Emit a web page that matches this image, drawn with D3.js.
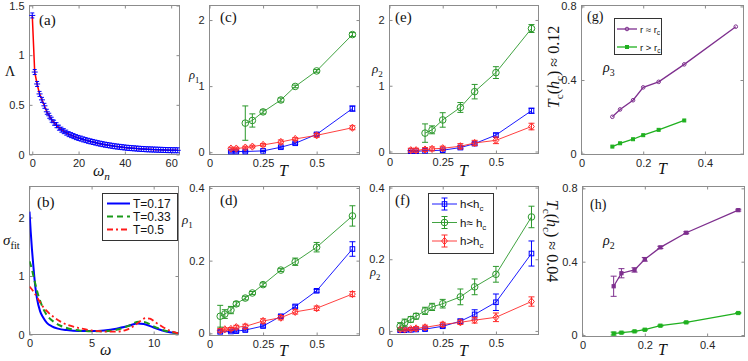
<!DOCTYPE html>
<html><head><meta charset="utf-8">
<script src="https://cdn.jsdelivr.net/npm/d3@7"></script>
<style>body{margin:0;background:#fff} svg{display:block}</style>
</head><body>
<svg id="chart" width="748" height="361"></svg>
<script>
// ---------- DATA ----------
// (a) Lambda vs Matsubara frequency
const aOmega = [0,1.05,2.09,3.14,4.19,5.24,6.28,7.33,8.38,9.42,10.47,11.52,12.57,13.61,14.66,15.71,16.76,17.80,18.85,19.90,20.94,21.99,23.04,24.08,25.13,26.18,27.23,28.27,29.32,30.37,31.42,32.46,33.51,34.56,35.60,36.65,37.70,38.75,39.79,40.84,41.89,42.94,43.98,45.03,46.08,47.12,48.17,49.22,50.27,51.31,52.36,53.41,54.45,55.50,56.55,57.60,58.64,59.69,60.74,61.78,62.83];
const aLambda = [1.40,0.83,0.71,0.61,0.55,0.49,0.43,0.39,0.35,0.32,0.295,0.27,0.25,0.235,0.22,0.205,0.195,0.185,0.175,0.167,0.16,0.152,0.145,0.138,0.132,0.126,0.12,0.114,0.109,0.104,0.099,0.095,0.091,0.087,0.083,0.08,0.077,0.074,0.071,0.068,0.066,0.064,0.062,0.06,0.058,0.056,0.055,0.053,0.052,0.051,0.05,0.049,0.048,0.047,0.046,0.045,0.044,0.044,0.043,0.043,0.042];

// (b) sigma_fit curves
const bLabels = ["T=0.17","T=0.33","T=0.5"];
const bOmega1 = [0,0.1,0.2,0.3,0.45,0.6,0.85,1.1,1.4,1.8,2.3,3,4,5,6,7,8,8.7,9.2,10,11,12];
const bSigma1 = [2.1,1.75,1.45,1.2,0.85,0.62,0.4,0.29,0.2,0.14,0.1,0.075,0.06,0.06,0.07,0.1,0.15,0.19,0.18,0.12,0.05,0.02];
const bOmega2 = [0,0.15,0.35,0.6,0.9,1.2,1.6,2,2.5,3,4,5,6,7,8,8.8,9.3,10,11,12];
const bSigma2 = [1.25,1.15,0.97,0.75,0.55,0.4,0.28,0.21,0.15,0.11,0.07,0.055,0.055,0.08,0.15,0.22,0.21,0.14,0.06,0.02];
const bOmega3 = [0,0.3,0.6,1.0,1.5,2,2.5,3,4,5,6,7,7.8,8.5,9.0,9.35,9.7,10.2,10.8,11.5,12];
const bSigma3 = [0.82,0.74,0.64,0.5,0.38,0.29,0.22,0.17,0.11,0.07,0.05,0.05,0.08,0.16,0.24,0.28,0.27,0.2,0.12,0.05,0.02];

// (c)-(f) series: h<hc (blue), h≈hc (green), h>hc (red)
const legendH = ["h<h","h≈ h","h>h"];
const cT_lo = [0.1,0.125,0.167,0.25,0.333,0.4,0.5,0.667];
const cV_lo = [0.01,0.01,0.01,0.02,0.075,0.135,0.27,0.66];
const cE_lo = [0.01,0.01,0.01,0.01,0.015,0.015,0.02,0.04];
const cT_eq = [0.167,0.2,0.25,0.333,0.4,0.5,0.667];
const cV_eq = [0.44,0.48,0.61,0.79,0.995,1.23,1.78];
const cE_eq = [0.26,0.1,0.03,0.03,0.02,0.02,0.03];
const cT_hi = [0.1,0.125,0.167,0.2,0.25,0.333,0.4,0.5,0.667];
const cV_hi = [0.055,0.055,0.07,0.085,0.11,0.155,0.2,0.255,0.37];
const cE_hi = [0.02,0.02,0.02,0.02,0.02,0.03,0.02,0.03,0.03];

const dT_lo = [0.05,0.1,0.125,0.167,0.25,0.333,0.4,0.5,0.667];
const dV_lo = [0.004,0.005,0.006,0.009,0.02,0.047,0.074,0.117,0.232];
const dE_lo = [0.003,0.003,0.003,0.003,0.003,0.004,0.004,0.004,0.02];
const dT_eq = [0.05,0.0714,0.1,0.125,0.167,0.2,0.25,0.333,0.4,0.5,0.667];
const dV_eq = [0.047,0.053,0.064,0.081,0.097,0.111,0.134,0.174,0.197,0.237,0.323];
const dE_eq = [0.03,0.012,0.01,0.006,0.005,0.004,0.005,0.004,0.01,0.013,0.028];
const dT_hi = [0.05,0.0714,0.1,0.125,0.167,0.25,0.333,0.4,0.5,0.667];
const dV_hi = [0.008,0.011,0.012,0.017,0.019,0.034,0.043,0.059,0.069,0.108];
const dE_hi = [0.005,0.004,0.004,0.005,0.006,0.006,0.006,0.006,0.006,0.007];

const eT_lo = [0.1,0.125,0.167,0.25,0.333,0.4,0.5,0.667];
const eV_lo = [0.005,0.005,0.01,0.02,0.06,0.12,0.25,0.62];
const eE_lo = [0.01,0.01,0.01,0.01,0.02,0.02,0.03,0.04];
const eT_eq = [0.167,0.2,0.25,0.333,0.4,0.5,0.667];
const eV_eq = [0.28,0.33,0.48,0.67,0.91,1.2,1.87];
const eE_eq = [0.14,0.06,0.11,0.075,0.11,0.09,0.06];
const eT_hi = [0.1,0.125,0.167,0.2,0.25,0.333,0.4,0.5,0.667];
const eV_hi = [0.02,0.02,0.03,0.04,0.05,0.08,0.13,0.17,0.38];
const eE_hi = [0.03,0.03,0.03,0.03,0.03,0.04,0.04,0.05,0.05];

const fT_lo = [0.05,0.0714,0.1,0.125,0.167,0.25,0.333,0.4,0.5,0.667];
const fV_lo = [0.002,0.002,0.003,0.004,0.005,0.013,0.027,0.046,0.08,0.216];
const fE_lo = [0.002,0.002,0.002,0.002,0.003,0.004,0.006,0.013,0.023,0.035];
const fT_eq = [0.05,0.0714,0.1,0.125,0.167,0.2,0.25,0.333,0.4,0.5,0.667];
const fV_eq = [0.013,0.023,0.032,0.041,0.056,0.067,0.076,0.095,0.123,0.158,0.318];
const fE_eq = [0.01,0.01,0.008,0.008,0.01,0.01,0.012,0.022,0.022,0.022,0.03];
const fT_hi = [0.05,0.0714,0.1,0.125,0.167,0.25,0.333,0.4,0.5,0.667];
const fV_hi = [0.004,0.004,0.005,0.007,0.01,0.018,0.024,0.03,0.038,0.082];
const fE_hi = [0.004,0.004,0.004,0.005,0.006,0.006,0.006,0.008,0.012,0.013];

// (g),(h): r≈rc (purple), r>rc (green)
const legendR = ["r ≈ r","r > r"];
const gT_p = [0.1,0.125,0.167,0.2,0.25,0.333,0.5];
const gV_p = [0.2,0.24,0.29,0.36,0.39,0.485,0.69];
const gT_g = [0.1,0.125,0.167,0.2,0.25,0.333];
const gV_g = [0.038,0.056,0.078,0.1,0.129,0.18];
const hT_p = [0.1,0.125,0.167,0.2,0.25,0.333,0.5];
const hV_p = [0.266,0.337,0.355,0.413,0.478,0.558,0.681];
const hE_p = [0.055,0.025,0.012,0.01,0.006,0.005,0.005];
const hT_g = [0.1,0.125,0.167,0.2,0.25,0.333,0.5];
const hV_g = [0.008,0.013,0.02,0.029,0.051,0.069,0.12];
const hE_g = [0.008,0.003,0.003,0.003,0.003,0.003,0.003];

// ---------- DRAWING ----------
const svg = d3.select('#chart');
const SANS = "'Liberation Sans', Arial, Helvetica, sans-serif";
const SERIF = "'Liberation Serif', 'Times New Roman', serif";
const AX = '#8c8c8c', TXT = '#262626';
const BLUE = '#0000ff', GREEN = '#2b982b', RED = '#ff2a2a', PURPLE = '#7e2f8e', LGREEN = '#1fb01f';

function panel(o) {
  const g = svg.append('g');
  const x = d3.scaleLinear().domain(o.xd).range([o.l, o.r]);
  const y = d3.scaleLinear().domain(o.yd).range([o.b, o.t]);
  const fmt = d3.format('');
  const style = sel => {
    sel.select('.domain').remove();
    sel.selectAll('line').attr('stroke', AX);
    sel.selectAll('text').attr('fill', TXT).attr('font-family', SANS).attr('font-size', 11);
  };
  g.append('g').attr('transform', `translate(0,${o.b})`)
    .call(d3.axisBottom(x).tickValues(o.xt).tickSize(-3).tickPadding(5).tickFormat(fmt)).call(style);
  g.append('g').attr('transform', `translate(${o.l},0)`)
    .call(d3.axisLeft(y).tickValues(o.yt).tickSize(-3).tickPadding(5).tickFormat(fmt)).call(style);
  g.append('g').attr('transform', `translate(0,${o.t})`)
    .call(d3.axisTop(x).tickValues(o.xt).tickSize(-3).tickFormat('')).call(style);
  g.append('g').attr('transform', `translate(${o.r},0)`)
    .call(d3.axisRight(y).tickValues(o.yt).tickSize(-3).tickFormat('')).call(style);
  g.append('rect').attr('x', o.l).attr('y', o.t).attr('width', o.r - o.l).attr('height', o.b - o.t)
    .attr('fill', 'none').attr('stroke', AX).attr('stroke-width', 1);
  const clipId = 'clip' + Math.round(o.l) + '_' + Math.round(o.t);
  svg.append('clipPath').attr('id', clipId).append('rect')
    .attr('x', o.l).attr('y', o.t - 6).attr('width', o.r - o.l).attr('height', o.b - o.t + 6);
  const plot = g.append('g');
  return {g, plot, x, y, clipId};
}

function marker(sel, type, cx, cy, color, size, filled) {
  const f = filled ? color : 'none';
  if (type === 'circle') {
    sel.append('circle').attr('cx', cx).attr('cy', cy).attr('r', size).attr('stroke', color).attr('fill', f);
  } else if (type === 'square') {
    sel.append('rect').attr('x', cx - size).attr('y', cy - size).attr('width', 2 * size).attr('height', 2 * size)
      .attr('stroke', color).attr('fill', f);
  } else if (type === 'diamond') {
    sel.append('path').attr('d', `M${cx},${cy - size}L${cx + size * 0.8},${cy}L${cx},${cy + size}L${cx - size * 0.8},${cy}Z`)
      .attr('stroke', color).attr('fill', f);
  } else if (type === 'plus') {
    sel.append('path').attr('d', `M${cx - 3},${cy}H${cx + 3}M${cx},${cy - 2.5}V${cy + 2.5}M${cx - 2},${cy - 2.5}H${cx + 2}M${cx - 2},${cy + 2.5}H${cx + 2}`)
      .attr('stroke', color).attr('fill', 'none');
  }
}

function series(P, xs, ys, errs, color, mtype, msize, lw, filled) {
  const pts = xs.map((t, i) => [P.x(t), P.y(ys[i])]);
  P.plot.append('path').attr('d', d3.line()(pts)).attr('fill', 'none').attr('stroke', color).attr('stroke-width', lw);
  const m = P.plot.append('g').attr('stroke-width', 1);
  if (errs) {
    xs.forEach((t, i) => {
      const cx = P.x(t), y1 = P.y(ys[i] - errs[i]), y2 = P.y(ys[i] + errs[i]);
      m.append('path').attr('d', `M${cx},${y1}V${y2}M${cx - 3},${y1}H${cx + 3}M${cx - 3},${y2}H${cx + 3}`)
        .attr('stroke', color).attr('fill', 'none');
    });
  }
  pts.forEach(p => marker(m, mtype, p[0], p[1], color, msize, filled));
}

function mathText(x, y, parts, size, opts = {}) {
  const t = svg.append('text').attr('x', x).attr('y', y)
    .attr('font-family', opts.family || SERIF).attr('font-size', size).attr('fill', opts.fill || '#111');
  if (opts.anchor) t.attr('text-anchor', opts.anchor);
  if (opts.rotate) t.attr('transform', `rotate(${opts.rotate},${x},${y})`);
  parts.forEach(p => {
    const s = t.append('tspan').text(p.t);
    if (p.i) s.attr('font-style', 'italic');
    if (p.sub) s.attr('font-size', size * 0.7).attr('dy', size * 0.28);
    if (p.up) s.attr('dy', -size * 0.28);
  });
  return t;
}

// ----- (a)
const A = panel({l: 29.5, r: 179.5, t: 5.5, b: 154.5, xd: [-1.2, 63.6], yd: [0, 1.5], xt: [0, 20, 40, 60], yt: [0, 0.5, 1, 1.5]});
A.plot.append('path').attr('d', d3.line().x((d, i) => A.x(aOmega[i])).y(d => A.y(d))(aLambda))
  .attr('fill', 'none').attr('stroke', '#ff0000').attr('stroke-width', 1.5);
aOmega.forEach((w, i) => marker(A.plot, 'plus', A.x(w), A.y(aLambda[i]), BLUE, 3));
mathText(39, 25, [{t: '(a)'}], 15);
mathText(5, 76, [{t: 'Λ'}], 14);
mathText(93, 176, [{t: 'ω', i: 1}, {t: 'n', i: 1, sub: 1}], 16);

// ----- (b)
const B = panel({l: 29.5, r: 178.5, t: 186.5, b: 334.5, xd: [0, 12], yd: [0, 2.53], xt: [0, 5, 10], yt: [0, 1, 2]});
const bLine = (ws, ss) => d3.line().curve(d3.curveMonotoneX).x((d, i) => B.x(ws[i])).y(d => B.y(d))(ss);
const bStyles = [
  {ws: bOmega1, ss: bSigma1, c: BLUE, dash: null, w: 2},
  {ws: bOmega2, ss: bSigma2, c: '#1a9a1a', dash: '6,4', w: 2},
  {ws: bOmega3, ss: bSigma3, c: '#ff1a1a', dash: '6,3,2,3', w: 1.8}
];
bStyles.forEach(s => {
  B.plot.append('path').attr('d', bLine(s.ws, s.ss)).attr('fill', 'none').attr('stroke', s.c)
    .attr('stroke-width', s.w).attr('stroke-dasharray', s.dash).attr('clip-path', `url(#${B.clipId})`);
});
B.g.append('rect').attr('x', 102.5).attr('y', 193.5).attr('width', 75).attr('height', 47).attr('fill', '#fff').attr('stroke', '#333');
bStyles.forEach((s, i) => {
  const yy = 203.5 + i * 13;
  B.g.append('line').attr('x1', 107).attr('x2', 130).attr('y1', yy).attr('y2', yy).attr('stroke', s.c)
    .attr('stroke-width', s.w).attr('stroke-dasharray', s.dash);
  B.g.append('text').attr('x', 133).attr('y', yy + 4).attr('font-family', SANS).attr('font-size', 12).attr('fill', '#111').text(bLabels[i]);
});
mathText(37, 207, [{t: '(b)'}], 15);
mathText(3, 245, [{t: 'σ', i: 1}, {t: 'fit', sub: 1}], 15);
mathText(100, 355, [{t: 'ω', i: 1}], 16);

// ----- (c)-(f)
function rhoPanel(o, lo, eq, hi) {
  const P = panel(o);
  series(P, lo[0], lo[1], lo[2], BLUE, 'square', 2.3, 0.9);
  series(P, hi[0], hi[1], hi[2], RED, 'diamond', 3.6, 0.9);
  series(P, eq[0], eq[1], eq[2], GREEN, 'circle', 3.3, 0.9);
  return P;
}
const xT = [0, 0.25, 0.5];
rhoPanel({l: 209.5, r: 359.5, t: 5.5, b: 154.5, xd: [0, 0.7], yd: [-0.035, 2.22], xt: xT, yt: [0, 1, 2]},
  [cT_lo, cV_lo, cE_lo], [cT_eq, cV_eq, cE_eq], [cT_hi, cV_hi, cE_hi]);
rhoPanel({l: 209.5, r: 359.5, t: 186.5, b: 335.5, xd: [0, 0.7], yd: [-0.006, 0.404], xt: xT, yt: [0, 0.2, 0.4]},
  [dT_lo, dV_lo, dE_lo], [dT_eq, dV_eq, dE_eq], [dT_hi, dV_hi, dE_hi]);
rhoPanel({l: 389.5, r: 538.5, t: 5.5, b: 153.5, xd: [0, 0.7], yd: [-0.03, 2.22], xt: xT, yt: [0, 1, 2]},
  [eT_lo, eV_lo, eE_lo], [eT_eq, eV_eq, eE_eq], [eT_hi, eV_hi, eE_hi]);
const F = rhoPanel({l: 389.5, r: 538.5, t: 186.5, b: 334.5, xd: [0, 0.7], yd: [-0.01, 0.403], xt: xT, yt: [0, 0.2, 0.4]},
  [fT_lo, fV_lo, fE_lo], [fT_eq, fV_eq, fE_eq], [fT_hi, fV_hi, fE_hi]);

// legend (f)
F.g.append('rect').attr('x', 428.5).attr('y', 193.5).attr('width', 65).attr('height', 60).attr('fill', '#fff').attr('stroke', '#333');
[[BLUE, 'square', 2.3], [GREEN, 'circle', 3.3], [RED, 'diamond', 3.6]].forEach((s, i) => {
  const yy = 204 + i * 18.5, cx = 444.5;
  const lg = F.g.append('g').attr('stroke-width', 1);
  lg.append('line').attr('x1', 432).attr('x2', 457).attr('y1', yy).attr('y2', yy).attr('stroke', s[0]).attr('stroke-width', 0.9);
  lg.append('path').attr('d', `M${cx},${yy - 6}V${yy + 6}M${cx - 3},${yy - 6}H${cx + 3}M${cx - 3},${yy + 6}H${cx + 3}`)
    .attr('stroke', s[0]).attr('fill', 'none');
  marker(lg, s[1], cx, yy, s[0], s[2]);
  mathText(460, yy + 4, [{t: legendH[i]}, {t: 'c', sub: 1}], 11.5, {family: SANS});
});

mathText(220, 22, [{t: '(c)'}], 15);
mathText(220, 205, [{t: '(d)'}], 15);
mathText(395, 22, [{t: '(e)'}], 15);
mathText(395, 205, [{t: '(f)'}], 15);
mathText(189, 79, [{t: 'ρ', i: 1}, {t: '1', sub: 1}], 12.5);
mathText(182, 224, [{t: 'ρ', i: 1}, {t: '1', sub: 1}], 13);
mathText(372, 73, [{t: 'ρ', i: 1}, {t: '2', sub: 1}], 13);
mathText(370, 276, [{t: 'ρ', i: 1}, {t: '2', sub: 1}], 12.5);
mathText(279, 176, [{t: 'T', i: 1}], 16);
mathText(279, 356, [{t: 'T', i: 1}], 16);
mathText(459, 176, [{t: 'T', i: 1}], 16);
mathText(459, 356, [{t: 'T', i: 1}], 16);

// ----- (g)
const G = panel({l: 581.5, r: 743.5, t: 5.5, b: 154.5, xd: [0, 0.525], yd: [-0.005, 0.805], xt: [0, 0.2, 0.4], yt: [0, 0.4, 0.8]});
series(G, gT_p, gV_p, null, PURPLE, 'circle', 1.8, 1.3);
series(G, gT_g, gV_g, null, LGREEN, 'square', 1.5, 1.3, true);
G.g.append('rect').attr('x', 614.5).attr('y', 18.5).attr('width', 47).attr('height', 36).attr('fill', '#fff').attr('stroke', '#333');
[[PURPLE, 'circle', 1.8, false], [LGREEN, 'square', 1.5, true]].forEach((s, i) => {
  const yy = 29 + i * 18;
  G.g.append('line').attr('x1', 617).attr('x2', 637).attr('y1', yy).attr('y2', yy).attr('stroke', s[0]).attr('stroke-width', 1.3);
  marker(G.g, s[1], 627, yy, s[0], s[2], s[3]);
  mathText(640, yy + 3.5, [{t: legendR[i]}, {t: 'c', sub: 1}], 9.5, {family: SANS});
});
mathText(587, 21, [{t: '(g)'}], 14);
mathText(603, 72, [{t: 'ρ', i: 1}, {t: '3', sub: 1}], 14);
mathText(658, 174, [{t: 'T', i: 1}], 16);
mathText(559, 67, [{t: 'T', i: 1}, {t: 'c', sub: 1}, {t: '(', up: 1}, {t: 'h', i: 1}, {t: 'c', sub: 1}, {t: ') ≈ 0.12', up: 1}], 16, {anchor: 'middle', rotate: -90});

// ----- (h)
const H = panel({l: 582.5, r: 744.5, t: 186.5, b: 336.5, xd: [0, 0.52], yd: [-0.008, 0.81], xt: [0, 0.2, 0.4], yt: [0, 0.4, 0.8]});
series(H, hT_p, hV_p, hE_p, PURPLE, 'square', 1.6, 1.3, true);
series(H, hT_g, hV_g, hE_g, LGREEN, 'square', 1.6, 1.3, true);
mathText(590, 209, [{t: '(h)'}], 14);
mathText(603, 245, [{t: 'ρ', i: 1}, {t: '2', sub: 1}], 14);
mathText(658, 355, [{t: 'T', i: 1}], 16);
mathText(547, 241, [{t: 'T', i: 1}, {t: 'c', sub: 1}, {t: '(', up: 1}, {t: 'h', i: 1}, {t: 'c', sub: 1}, {t: ') ≈ 0.04', up: 1}], 16, {anchor: 'middle', rotate: 90});
</script>
</body></html>
